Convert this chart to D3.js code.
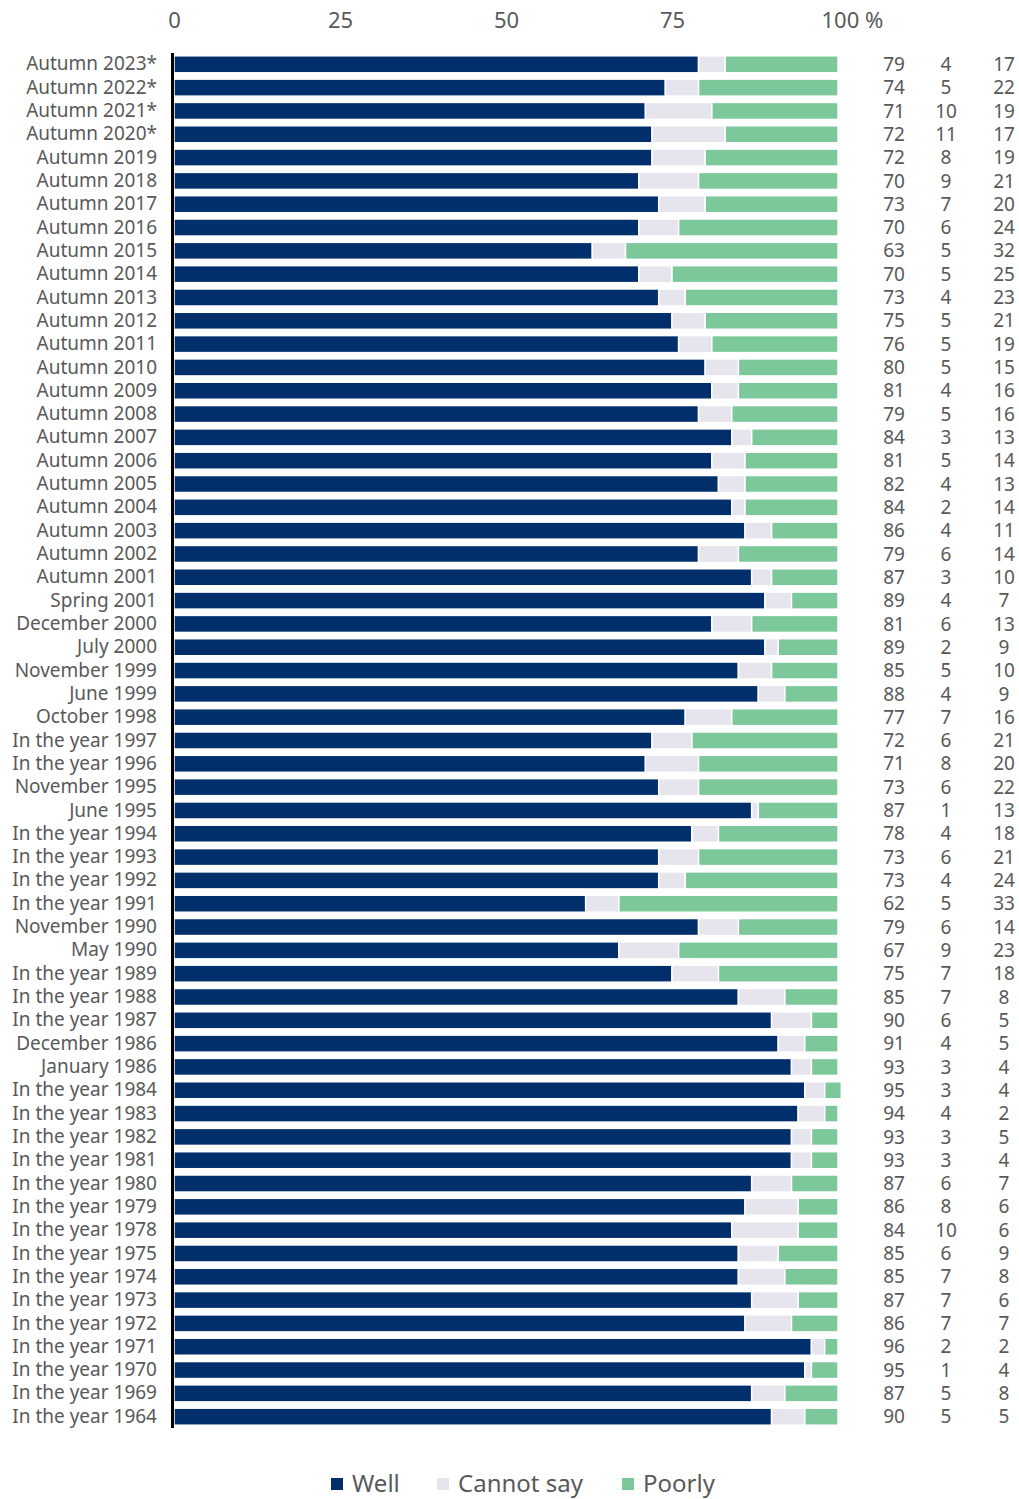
<!DOCTYPE html>
<html>
<head>
<meta charset="utf-8">
<script src="https://cdn.jsdelivr.net/npm/d3@7"></script>
<style>
  body { margin: 0; background: #fff; }
  text { font-family: 'Noto Sans', 'Open Sans', sans-serif; fill: #595959; }
</style>
</head>
<body>
<div id="chart"></div>
<script>
// survey rows, top to bottom
var categories = [
  'Autumn 2023*', 'Autumn 2022*', 'Autumn 2021*', 'Autumn 2020*', 'Autumn 2019',
  'Autumn 2018', 'Autumn 2017', 'Autumn 2016', 'Autumn 2015', 'Autumn 2014',
  'Autumn 2013', 'Autumn 2012', 'Autumn 2011', 'Autumn 2010', 'Autumn 2009',
  'Autumn 2008', 'Autumn 2007', 'Autumn 2006', 'Autumn 2005', 'Autumn 2004',
  'Autumn 2003', 'Autumn 2002', 'Autumn 2001', 'Spring 2001', 'December 2000',
  'July 2000', 'November 1999', 'June 1999', 'October 1998', 'In the year 1997',
  'In the year 1996', 'November 1995', 'June 1995', 'In the year 1994', 'In the year 1993',
  'In the year 1992', 'In the year 1991', 'November 1990', 'May 1990', 'In the year 1989',
  'In the year 1988', 'In the year 1987', 'December 1986', 'January 1986', 'In the year 1984',
  'In the year 1983', 'In the year 1982', 'In the year 1981', 'In the year 1980', 'In the year 1979',
  'In the year 1978', 'In the year 1975', 'In the year 1974', 'In the year 1973', 'In the year 1972',
  'In the year 1971', 'In the year 1970', 'In the year 1969', 'In the year 1964'
];
var well = [79, 74, 71, 72, 72, 70, 73, 70, 63, 70, 73, 75, 76, 80, 81, 79, 84, 81, 82, 84,
            86, 79, 87, 89, 81, 89, 85, 88, 77, 72, 71, 73, 87, 78, 73, 73, 62, 79, 67, 75,
            85, 90, 91, 93, 95, 94, 93, 93, 87, 86, 84, 85, 85, 87, 86, 96, 95, 87, 90];
var cannotSay = [4, 5, 10, 11, 8, 9, 7, 6, 5, 5, 4, 5, 5, 5, 4, 5, 3, 5, 4, 2,
                 4, 6, 3, 4, 6, 2, 5, 4, 7, 6, 8, 6, 1, 4, 6, 4, 5, 6, 9, 7,
                 7, 6, 4, 3, 3, 4, 3, 3, 6, 8, 10, 6, 7, 7, 7, 2, 1, 5, 5];
var poorly = [17, 22, 19, 17, 19, 21, 20, 24, 32, 25, 23, 21, 19, 15, 16, 16, 13, 14, 13, 14,
              11, 14, 10, 7, 13, 9, 10, 9, 16, 21, 20, 22, 13, 18, 21, 24, 33, 14, 23, 18,
              8, 5, 5, 4, 4, 2, 5, 4, 7, 6, 6, 9, 8, 6, 7, 2, 4, 8, 5];
// poorly segment as drawn in the bars (printed labels are rounded)
var poorlyBar = [17, 21, 19, 17, 20, 21, 20, 24, 32, 25, 23, 20, 19, 15, 15, 16, 13, 14, 14, 14,
                 10, 15, 10, 7, 13, 9, 10, 8, 16, 22, 21, 21, 12, 18, 21, 23, 33, 15, 24, 18,
                 8, 4, 5, 4, 2.5, 2, 4, 4, 7, 6, 6, 9, 8, 6, 7, 2, 4, 8, 5];
var xTicks = [0, 25, 50, 75, 100];
var seriesNames = ['Well', 'Cannot say', 'Poorly'];
var colors = ['#002f6c', '#e6e4ec', '#7cc89a'];

var W = 1019, H = 1499;
var svg = d3.select('#chart').append('svg')
    .attr('width', W).attr('height', H);

var x = d3.scaleLinear().domain([0, 100]).range([174, 838]);
var y = d3.scaleBand().domain(categories).range([53, 1428]).paddingInner(0.27).paddingOuter(0.12);

// top axis labels
var xaxis = d3.axisTop(x).tickValues(xTicks).tickSize(0).tickPadding(0)
    .tickFormat(d => d == 100 ? '100 %' : d);
var gx = svg.append('g')
    .attr('transform', 'translate(0,28)')
    .call(xaxis);
gx.select('.domain').remove();
gx.selectAll('text')
    .attr('font-size', 22)
    .attr('fill', '#595959')
    .style('font-family', "'Noto Sans', sans-serif")
    .attr('text-anchor', d => d == 100 ? 'start' : 'middle')
    .attr('dx', d => d == 100 ? -17 : 0);

// stacked bars
var rows = svg.append('g').selectAll('g')
    .data(categories)
  .enter().append('g')
    .attr('transform', d => 'translate(0,' + y(d) + ')');

rows.each(function(d, i) {
  let g = d3.select(this);
  let segs = [[0, well[i]], [well[i], well[i] + cannotSay[i]],
              [well[i] + cannotSay[i], well[i] + cannotSay[i] + poorlyBar[i]]];
  segs.forEach(function(s, k) {
    g.append('rect')
      .attr('x', x(s[0]))
      .attr('y', 0)
      .attr('width', x(s[1]) - x(s[0]))
      .attr('height', y.bandwidth())
      .attr('fill', colors[k])
      .attr('stroke', '#fff')
      .attr('stroke-width', 1.5);
  });
});

// category labels
var yaxis = d3.axisLeft(y).tickSize(0).tickPadding(0);
var gy = svg.append('g')
    .attr('transform', 'translate(157,0)')
    .call(yaxis);
gy.select('.domain').remove();
gy.selectAll('text')
    .attr('font-size', 19)
    .attr('fill', '#595959')
    .style('font-family', "'Noto Sans', sans-serif");

// axis line
svg.append('line')
    .attr('x1', 172.5).attr('x2', 172.5)
    .attr('y1', 53).attr('y2', 1428)
    .attr('stroke', '#000').attr('stroke-width', 3);

// value columns
var colX = [894, 946, 1004];
[well, cannotSay, poorly].forEach(function(arr, k) {
  svg.append('g').selectAll('text')
      .data(arr)
    .enter().append('text')
      .attr('x', colX[k])
      .attr('y', (d, i) => y(categories[i]) + y.bandwidth() / 2)
      .attr('dy', '0.35em')
      .attr('text-anchor', 'middle')
      .attr('font-size', 19)
      .text(d => d);
});

// legend
var legX = [331, 437, 622];
var leg = svg.append('g').selectAll('g')
    .data(seriesNames)
  .enter().append('g')
    .attr('transform', (d, i) => 'translate(' + legX[i] + ',1478)');
leg.append('rect')
    .attr('width', 12).attr('height', 12)
    .attr('fill', (d, i) => colors[i]);
leg.append('text')
    .attr('x', 21).attr('y', 6)
    .attr('dy', '0.35em')
    .attr('font-size', 24)
    .text(d => d);
</script>
</body>
</html>
